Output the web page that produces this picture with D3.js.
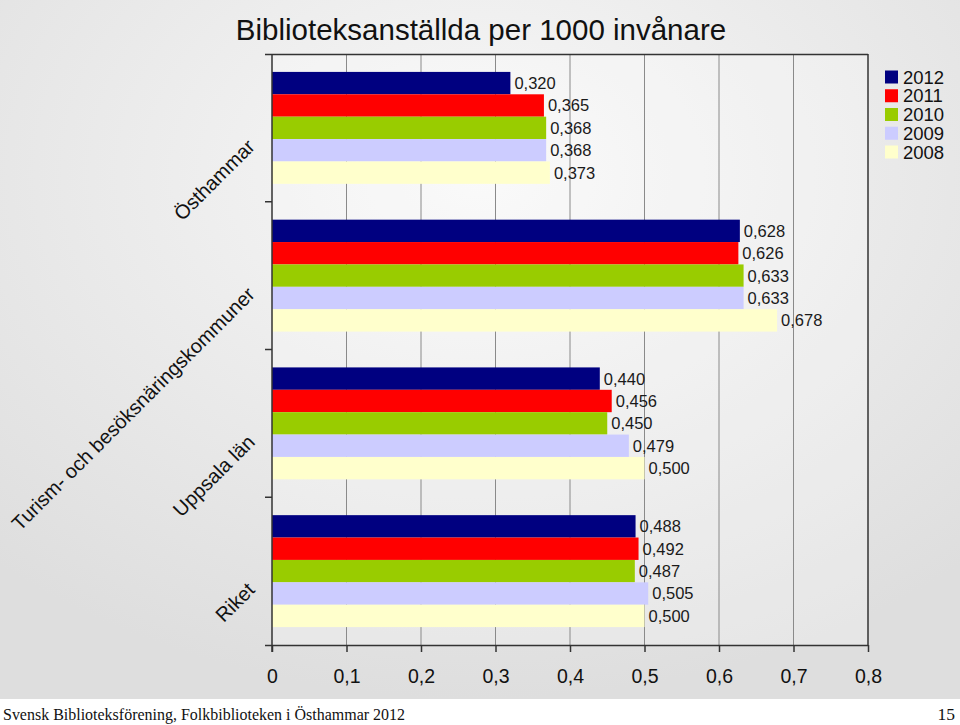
<!DOCTYPE html>
<html><head><meta charset="utf-8">
<script src="https://cdn.jsdelivr.net/npm/d3@7"></script>
<style>html,body{margin:0;padding:0;background:#fff;}svg{display:block;}</style>
</head><body>
<svg id="c" width="960" height="725"></svg>
<script>
const categories = ["Östhammar", "Turism- och besöksnäringskommuner", "Uppsala län", "Riket"];
const years = ["2012", "2011", "2010", "2009", "2008"];
const values2012 = [0.320, 0.628, 0.440, 0.488];
const values2011 = [0.365, 0.626, 0.456, 0.492];
const values2010 = [0.368, 0.633, 0.450, 0.487];
const values2009 = [0.368, 0.633, 0.479, 0.505];
const values2008 = [0.373, 0.678, 0.500, 0.500];
const xTicks = [0, 0.1, 0.2, 0.3, 0.4, 0.5, 0.6, 0.7, 0.8];
const xTickLabels = ["0", "0,1", "0,2", "0,3", "0,4", "0,5", "0,6", "0,7", "0,8"];
const valueLabels = [
  ["0,320", "0,628", "0,440", "0,488"],
  ["0,365", "0,626", "0,456", "0,492"],
  ["0,368", "0,633", "0,450", "0,487"],
  ["0,368", "0,633", "0,479", "0,505"],
  ["0,373", "0,678", "0,500", "0,500"]
];
const colors = ["#000080", "#FF0000", "#99CC00", "#CCCCFF", "#FFFFCC"];
const series = [values2012, values2011, values2010, values2009, values2008];

(function () {
const svg = d3.select("#c");
const defs = svg.append("defs");
const rg = defs.append("radialGradient").attr("id", "bg").attr("cx", "50%").attr("cy", "25%").attr("r", "75%");
rg.append("stop").attr("offset", "0%").attr("stop-color", "#f8f8f8");
rg.append("stop").attr("offset", "100%").attr("stop-color", "#dedede");
svg.append("rect").attr("x", 0).attr("y", 0).attr("width", 960).attr("height", 699).attr("fill", "url(#bg)");
svg.append("rect").attr("x", 0).attr("y", 699).attr("width", 960).attr("height", 26).attr("fill", "#ffffff");

const pL = 272, pR = 868, pT = 54, pB = 645;
const x = d3.scaleLinear().domain([0, 0.8]).range([pL, pR]);
const y0 = d3.scaleBand().domain(categories).range([pT, pB]).padding(0);
const y1 = d3.scaleBand().domain(years).range([0, y0.bandwidth()]).paddingInner(0).paddingOuter(0.8);

svg.append("rect").attr("x", pL).attr("y", pT).attr("width", pR - pL).attr("height", pB - pT)
  .attr("fill", "#ffffff").attr("fill-opacity", 0.25);

svg.append("g").selectAll("line").data(xTicks.filter(d => d > 0 && d < 0.8)).join("line")
  .attr("x1", d => x(d)).attr("x2", d => x(d)).attr("y1", pT).attr("y2", pB)
  .attr("stroke", "#8a8a8a").attr("stroke-width", 1);

const g = svg.append("g");
categories.forEach((c, ci) => {
  years.forEach((yr, si) => {
    const v = series[si][ci];
    g.append("rect")
      .attr("x", x(0)).attr("y", y0(c) + y1(yr))
      .attr("width", x(v) - x(0)).attr("height", y1.bandwidth())
      .attr("fill", colors[si]);
    g.append("text")
      .attr("x", x(v) + 4).attr("y", y0(c) + y1(yr) + y1.bandwidth() / 2)
      .attr("dy", "0.36em")
      .attr("font-family", "Liberation Sans, Arial, sans-serif").attr("font-size", 16.5)
      .attr("fill", "#1a1a1a")
      .text(valueLabels[si][ci]);
  });
});

svg.append("line").attr("x1", pL - 7).attr("x2", pR).attr("y1", pT + 0.5).attr("y2", pT + 0.5).attr("stroke", "#333").attr("stroke-width", 1.5);
svg.append("line").attr("x1", pR).attr("x2", pR).attr("y1", pT).attr("y2", pB).attr("stroke", "#333").attr("stroke-width", 1.5);

const xAxis = d3.axisBottom(x).tickValues(xTicks).tickFormat((d, i) => xTickLabels[i]).tickSize(7).tickSizeOuter(0);
const ax = svg.append("g").attr("transform", `translate(0,${pB})`).call(xAxis);
ax.select(".domain").attr("stroke", "#333").attr("stroke-width", 1.5).attr("d", `M${pL - 7},0.5H${pR}`);
ax.selectAll(".tick line").attr("stroke", "#333").attr("stroke-width", 1.5);
ax.selectAll(".tick text").attr("font-family", "Liberation Sans, Arial, sans-serif").attr("font-size", 19.5)
  .attr("fill", "#111").attr("y", 0).attr("dy", 0).attr("transform", "translate(0,38)");

svg.append("line").attr("x1", pL).attr("x2", pL).attr("y1", pT).attr("y2", pB + 7).attr("stroke", "#333").attr("stroke-width", 1.5);
svg.append("g").selectAll("line").data(categories.slice(1)).join("line")
  .attr("x1", pL - 7).attr("x2", pL).attr("y1", d => y0(d)).attr("y2", d => y0(d))
  .attr("stroke", "#333").attr("stroke-width", 1.5);

svg.append("g").selectAll("text").data(categories).join("text")
  .attr("transform", d => `translate(256,${y0(d) + y0.bandwidth() / 2 + 20}) rotate(-45)`)
  .attr("text-anchor", "end")
  .attr("font-family", "Liberation Sans, Arial, sans-serif").attr("font-size", 20)
  .attr("fill", "#111")
  .text(d => d);

svg.append("text").attr("x", 481).attr("y", 40).attr("text-anchor", "middle")
  .attr("font-family", "Liberation Sans, Arial, sans-serif").attr("font-size", 29.5).attr("fill", "#111")
  .text("Biblioteksanställda per 1000 invånare");

const lg = svg.append("g").attr("transform", "translate(885,70.5)");
years.forEach((yr, i) => {
  lg.append("rect").attr("x", 0).attr("y", i * 18.75).attr("width", 13).attr("height", 13).attr("fill", colors[i]);
  lg.append("text").attr("x", 18).attr("y", i * 18.75 + 6.5).attr("dy", "0.36em")
    .attr("font-family", "Liberation Sans, Arial, sans-serif").attr("font-size", 18.5).attr("fill", "#111").text(yr);
});

svg.append("text").attr("x", 3).attr("y", 720)
  .attr("font-family", "Liberation Serif, Times New Roman, serif").attr("font-size", 17.5).attr("fill", "#111")
  .attr("textLength", 402).attr("lengthAdjust", "spacingAndGlyphs")
  .text("Svensk Biblioteksförening, Folkbiblioteken i Östhammar 2012");
svg.append("text").attr("x", 955).attr("y", 720).attr("text-anchor", "end")
  .attr("font-family", "Liberation Serif, Times New Roman, serif").attr("font-size", 17.5).attr("fill", "#111")
  .text("15");
})();
</script>
</body></html>
